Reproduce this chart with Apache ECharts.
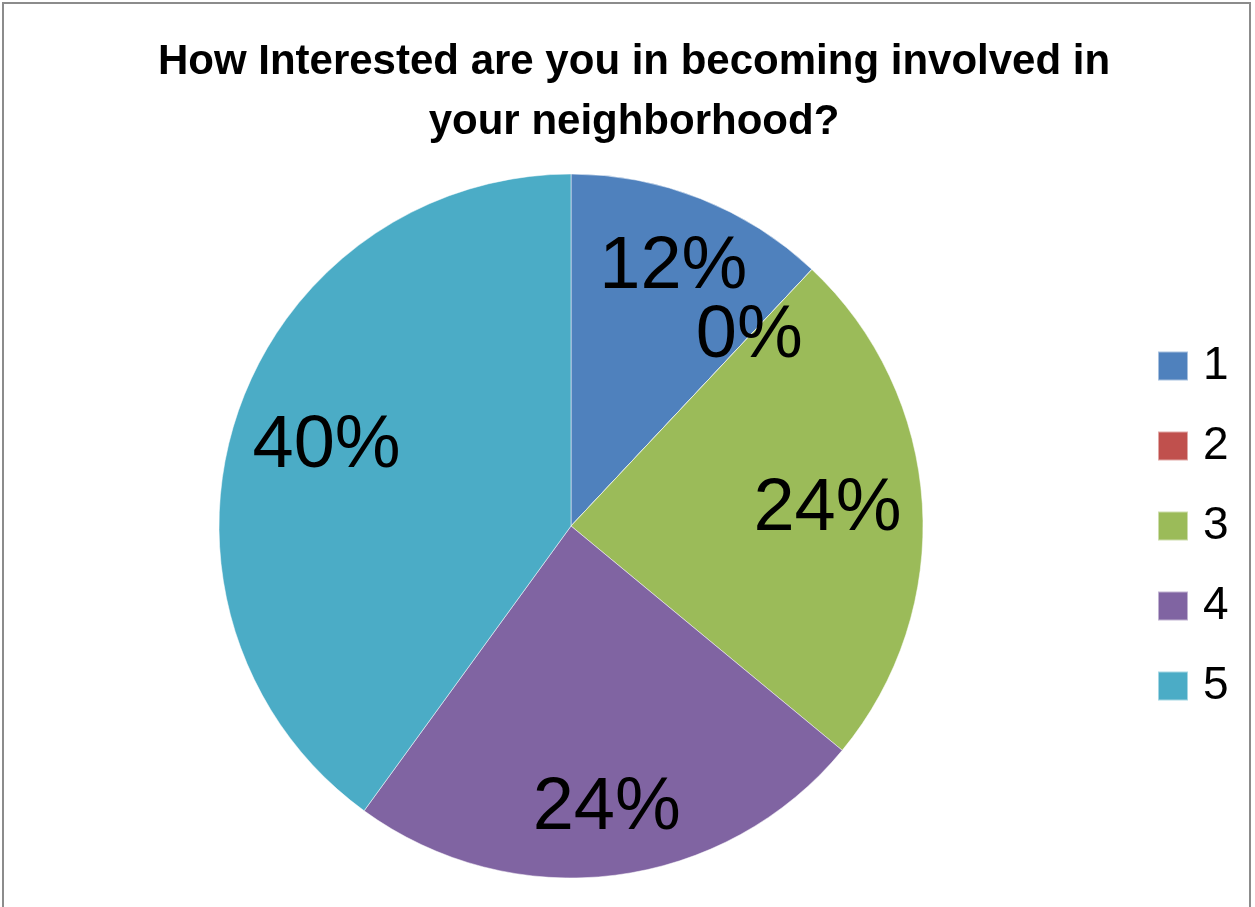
<!DOCTYPE html>
<html>
<head>
<meta charset="utf-8">
<script src="https://cdn.jsdelivr.net/npm/echarts@6/dist/echarts.min.js"></script>
<style>
html,body{margin:0;padding:0;background:#fff;}
#chart{width:1255px;height:907px;}
</style>
</head>
<body>
<div id="chart"></div>
<script>
var categories = ['1', '2', '3', '4', '5'];
var counts = [3, 0, 6, 6, 10];
var colors = ['#4F81BD', '#C0504D', '#9BBB59', '#8064A2', '#4BACC6'];
var labelRadius = [0.79, 0.74, 0.73, 0.81, 0.73];
var titleText = 'How Interested are you in becoming involved in\nyour neighborhood?';

var chart = echarts.init(document.getElementById('chart'), null, {renderer: 'canvas'});

function labelPos(params) {
  var data = chart.getModel().getSeriesByIndex(0).getData();
  var lay = data.getItemLayout(params.dataIndex);
  if (!lay) return {};
  var mid = (lay.startAngle + lay.endAngle) / 2;
  var rr = lay.r * labelRadius[params.dataIndex];
  return { x: lay.cx + rr * Math.cos(mid), y: lay.cy + rr * Math.sin(mid) };
}

chart.setOption({
  animation: false,
  backgroundColor: '#fff',
  color: colors,
  title: {
    text: titleText,
    left: 629,
    textAlign: 'center',
    top: 27,
    textStyle: {
      fontFamily: "'Liberation Sans', sans-serif",
      fontWeight: 'bold',
      fontSize: 42,
      lineHeight: 60,
      color: '#000'
    }
  },
  legend: {
    orient: 'vertical',
    left: 1152,
    top: 338,
    itemWidth: 30,
    itemHeight: 29,
    itemGap: 34,
    icon: 'rect',
    data: categories,
    textStyle: {
      fontFamily: "'Liberation Sans', sans-serif",
      fontSize: 46,
      lineHeight: 46,
      color: '#000',
      padding: [0, 0, 0, 10]
    }
  },
  graphic: [{
    type: 'rect',
    shape: {x: 3, y: 3, width: 1247, height: 920},
    style: {fill: 'none', stroke: '#8c8c8c', lineWidth: 2},
    silent: true
  }],
  series: [{
    type: 'pie',
    center: [571, 526],
    radius: [0, 352],
    startAngle: 90,
    clockwise: true,
    avoidLabelOverlap: false,
    silent: true,
    itemStyle: {borderColor: 'rgba(255,255,255,0.5)', borderWidth: 1},
    label: {
      show: true,
      position: 'inside',
      formatter: function (p) { return Math.round(p.percent) + '%'; },
      fontFamily: "'Liberation Sans', sans-serif",
      fontSize: 74,
      color: '#000'
    },
    labelLine: {show: false},
    labelLayout: labelPos,
    emphasis: {disabled: true},
    data: categories.map(function (c, i) { return {name: c, value: counts[i]}; })
  }]
});
</script>
</body>
</html>
